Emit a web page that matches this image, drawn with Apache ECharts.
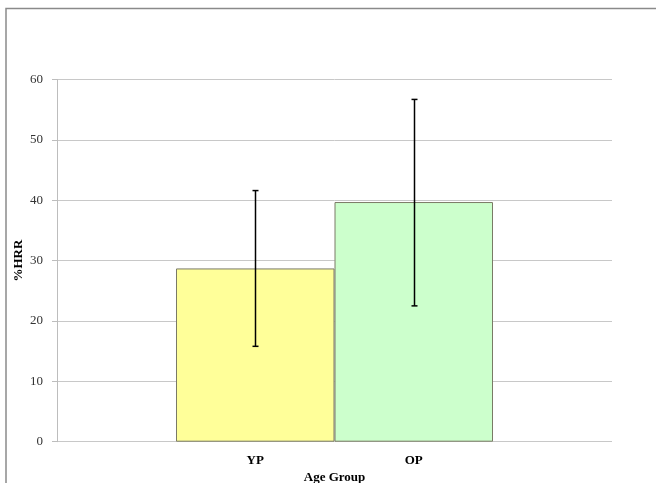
<!DOCTYPE html>
<html>
<head>
<meta charset="utf-8">
<script src="https://cdn.jsdelivr.net/npm/echarts@6/dist/echarts.min.js"></script>
<style>html,body{margin:0;padding:0;background:#fff}#c{width:656px;height:483px}</style>
</head>
<body>
<div id="c"></div>
<script>
var categories = ['YP', 'OP'];
var values = [28.7, 39.7];
var errLow = [15.8, 22.5];
var errHigh = [41.6, 56.7];
var barColors = ['#FFFF99', '#CCFFCC'];
var yTicks = [0, 10, 20, 30, 40, 50, 60];

var font = '"Liberation Serif", "Times New Roman", serif';
var chart = echarts.init(document.getElementById('c'), null, {renderer: 'canvas'});
var gridTop = 79.5, gridBottom = 41.3;
chart.setOption({
  animation: false,
  backgroundColor: '#fff',
  graphic: [{
    type: 'polyline', silent: true,
    shape: {points: [[6, 490], [6, 8.5], [660, 8.5]]},
    style: {stroke: '#8a8a8a', lineWidth: 1.5, fill: null}
  }],
  grid: [
    {left: 57, right: 44, top: gridTop, bottom: gridBottom, containLabel: false, outerBoundsMode: 'none'},
    {left: 176, right: 163, top: gridTop, bottom: gridBottom, containLabel: false, outerBoundsMode: 'none'}
  ],
  xAxis: [
    {gridIndex: 0, type: 'value', show: false, min: 0, max: 1},
    {gridIndex: 1, type: 'category', data: categories,
     axisLine: {show: false}, axisTick: {show: false},
     axisLabel: {fontFamily: font, fontWeight: 'bold', fontSize: 13, color: '#000', margin: 12},
     name: 'Age Group', nameLocation: 'middle', nameGap: 29, nameMoveOverlap: false,
     nameTextStyle: {fontFamily: font, fontWeight: 'bold', fontSize: 13, color: '#000'}}
  ],
  yAxis: [
    {gridIndex: 0, type: 'value', min: yTicks[0], max: yTicks[yTicks.length - 1], interval: 10,
     axisLine: {show: true, lineStyle: {color: '#bdbdbd', width: 1}},
     axisTick: {show: true, length: 5, lineStyle: {color: '#bdbdbd'}},
     axisLabel: {fontFamily: font, fontSize: 13, color: '#333', margin: 14},
     splitLine: {show: true, lineStyle: {color: '#c8c8c8', width: 1}},
     name: '%HRR', nameLocation: 'middle', nameRotate: 90, nameGap: 32, nameMoveOverlap: false,
     nameTextStyle: {fontFamily: font, fontWeight: 'bold', fontSize: 13, color: '#000'}},
    {gridIndex: 1, type: 'value', min: yTicks[0], max: yTicks[yTicks.length - 1], show: false}
  ],
  series: [
    {type: 'bar', xAxisIndex: 1, yAxisIndex: 1, barWidth: '100%',
     data: values.map(function (v, i) {
       return {value: v, itemStyle: {color: barColors[i], borderColor: '#7a7a66', borderWidth: 1}};
     })},
    {type: 'custom', xAxisIndex: 1, yAxisIndex: 1, z: 10,
     data: categories.map(function (c, i) { return [i, errLow[i], errHigh[i]]; }),
     renderItem: function (params, api) {
       var lo = api.coord([api.value(0), api.value(1)]);
       var hi = api.coord([api.value(0), api.value(2)]);
       var x = Math.round(lo[0]) + 0.5;
       var w = 3;
       var st = {stroke: '#000', lineWidth: 1.5};
       return {type: 'group', children: [
         {type: 'line', shape: {x1: x, y1: lo[1], x2: x, y2: hi[1]}, style: st},
         {type: 'line', shape: {x1: x - w, y1: lo[1], x2: x + w, y2: lo[1]}, style: st},
         {type: 'line', shape: {x1: x - w, y1: hi[1], x2: x + w, y2: hi[1]}, style: st}
       ]};
     }}
  ]
});
</script>
</body>
</html>
